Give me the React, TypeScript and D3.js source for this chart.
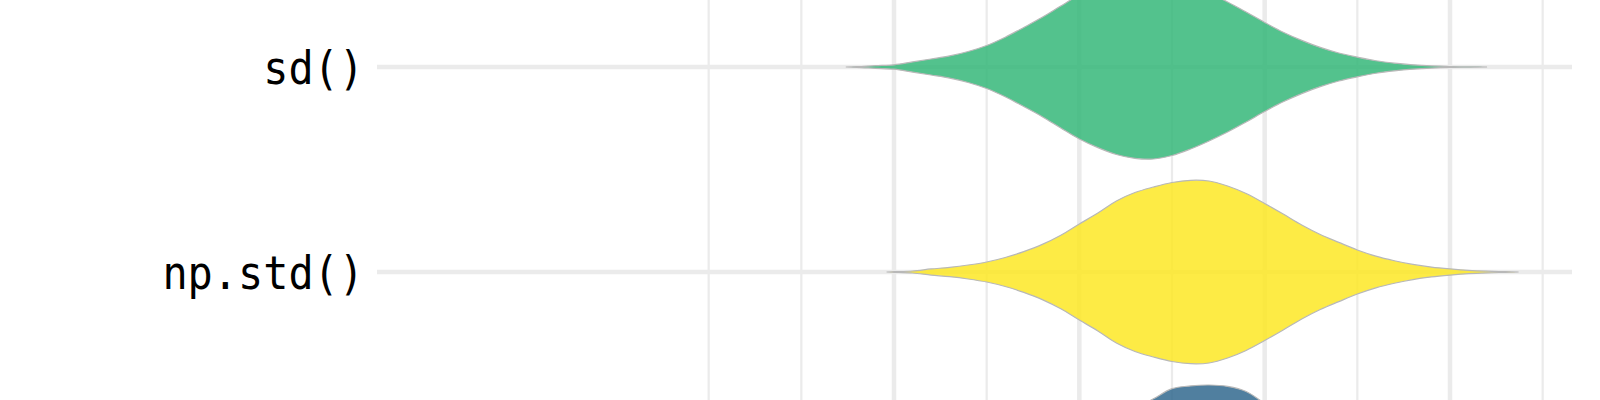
import * as d3 from "d3";
import { useEffect, useRef } from "react";

// categories, top to bottom (the third one is cut off by the frame)
const categories = ["sd()", "np.std()", "pd.std()"];
const fillColors = ["#35B779", "#FDE725", "#31688E"];

// x positions of the density estimate for each violin
const sdX = [0.774, 0.78, 0.79, 0.8, 0.81, 0.82, 0.83, 0.84, 0.85, 0.86, 0.87, 0.88, 0.89, 0.9, 0.91, 0.92, 0.93, 0.94, 0.95, 0.96, 0.97, 0.98, 0.99, 1.0, 1.01, 1.02, 1.03, 1.04, 1.05, 1.06, 1.07, 1.08, 1.09, 1.1, 1.11, 1.12];
const sdDensity = [0, 0.003, 0.014, 0.024, 0.055, 0.087, 0.12, 0.168, 0.234, 0.324, 0.43, 0.54, 0.663, 0.783, 0.876, 0.951, 0.993, 1.0, 0.962, 0.891, 0.804, 0.707, 0.598, 0.484, 0.378, 0.289, 0.213, 0.152, 0.107, 0.068, 0.042, 0.024, 0.012, 0.005, 0.002, 0];

const npX = [0.796, 0.8, 0.81, 0.82, 0.83, 0.84, 0.85, 0.86, 0.87, 0.88, 0.89, 0.9, 0.91, 0.92, 0.93, 0.94, 0.95, 0.96, 0.97, 0.98, 0.99, 1.0, 1.01, 1.02, 1.03, 1.04, 1.05, 1.06, 1.07, 1.08, 1.09, 1.1, 1.11, 1.12, 1.13, 1.137];
const npDensity = [0, 0.003, 0.011, 0.033, 0.051, 0.076, 0.109, 0.158, 0.222, 0.3, 0.4, 0.522, 0.641, 0.772, 0.864, 0.924, 0.973, 0.997, 0.989, 0.935, 0.853, 0.745, 0.63, 0.511, 0.408, 0.322, 0.239, 0.172, 0.122, 0.082, 0.054, 0.034, 0.018, 0.009, 0.004, 0];

const pdX = [0.8, 0.81, 0.82, 0.83, 0.84, 0.85, 0.86, 0.87, 0.88, 0.89, 0.9, 0.91, 0.92, 0.93, 0.94, 0.95, 0.96, 0.97, 0.98, 0.99, 1.0, 1.01, 1.02, 1.03, 1.04, 1.05, 1.06, 1.07, 1.08, 1.09, 1.1, 1.11, 1.12, 1.13];
const pdDensity = [0, 0.004, 0.012, 0.03, 0.05, 0.075, 0.11, 0.16, 0.22, 0.3, 0.4, 0.51, 0.62, 0.74, 0.85, 0.96, 0.99, 1.0, 0.985, 0.93, 0.8, 0.67, 0.54, 0.43, 0.33, 0.25, 0.18, 0.13, 0.09, 0.06, 0.035, 0.018, 0.008, 0];

// x axis grid breaks
const majorBreaks = [0.8, 0.9, 1.0, 1.1];
const minorBreaks = [0.7, 0.75, 0.85, 0.95, 1.05, 1.15];

const App = () => {
    const svgRef = useRef<SVGSVGElement | null>(null);

    useEffect(() => {
        const width = 1600;
        const height = 400;
        const panelLeft = 377;
        const panelRight = 1572;

        const svg = d3.select(svgRef.current);
        svg.selectAll("*").remove();
        svg.attr("viewBox", `0 0 ${width} ${height}`);

        const x = d3.scaleLinear().domain([0.8, 1.1]).range([894, 1450]);
        const y = d3.scalePoint<string>().domain(categories).range([67, 477]);
        const halfWidth = d3.scaleLinear().domain([0, 1]).range([0, 92]);

        const series = [
            { xs: sdX, ds: sdDensity },
            { xs: npX, ds: npDensity },
            { xs: pdX, ds: pdDensity },
        ];

        // grid
        const grid = svg.append("g");
        grid.selectAll("line.minor")
            .data(minorBreaks)
            .join("line")
            .attr("class", "minor")
            .attr("x1", d => x(d))
            .attr("x2", d => x(d))
            .attr("y1", 0)
            .attr("y2", height)
            .attr("stroke", "#ebebeb")
            .attr("stroke-width", 2.2);
        grid.selectAll("line.major")
            .data(majorBreaks)
            .join("line")
            .attr("class", "major")
            .attr("x1", d => x(d))
            .attr("x2", d => x(d))
            .attr("y1", 0)
            .attr("y2", height)
            .attr("stroke", "#ebebeb")
            .attr("stroke-width", 4.5);
        grid.selectAll("line.hmajor")
            .data(categories)
            .join("line")
            .attr("class", "hmajor")
            .attr("x1", panelLeft)
            .attr("x2", panelRight)
            .attr("y1", d => y(d)!)
            .attr("y2", d => y(d)!)
            .attr("stroke", "#ebebeb")
            .attr("stroke-width", 4.5);

        // violins
        series.forEach((s, i) => {
            const cy = y(categories[i])!;
            const pts = s.xs.map((v, j) => ({ v, d: s.ds[j] }));
            const area = d3.area<{ v: number; d: number }>()
                .x(p => x(p.v))
                .y0(p => cy - halfWidth(p.d))
                .y1(p => cy + halfWidth(p.d))
                .curve(d3.curveCatmullRom.alpha(0.5));
            svg.append("path")
                .datum(pts)
                .attr("d", area)
                .attr("fill", fillColors[i])
                .attr("fill-opacity", 0.85)
                .attr("stroke", "#b8b8b8")
                .attr("stroke-width", 1.2);
        });

        // category labels (only the ones inside the frame)
        svg.append("g")
            .selectAll("text")
            .data(categories.filter(c => y(c)! < height - 30))
            .join("text")
            .attr("x", 364)
            .attr("y", d => y(d)! + 17)
            .attr("text-anchor", "end")
            .attr("font-family", "'DejaVu Sans Mono', monospace")
            .attr("font-size", "46px")
            .attr("textLength", d => d.length * 25.2)
            .attr("lengthAdjust", "spacingAndGlyphs")
            .attr("fill", "#000")
            .text(d => d);
    }, []);

    return (
        <div style={{ position: "fixed", top: 0, left: 0, width: 1600, height: 400, background: "#fff" }}>
            <svg ref={svgRef} width={1600} height={400} style={{ display: "block" }}></svg>
        </div>
    );
};

export default App;
